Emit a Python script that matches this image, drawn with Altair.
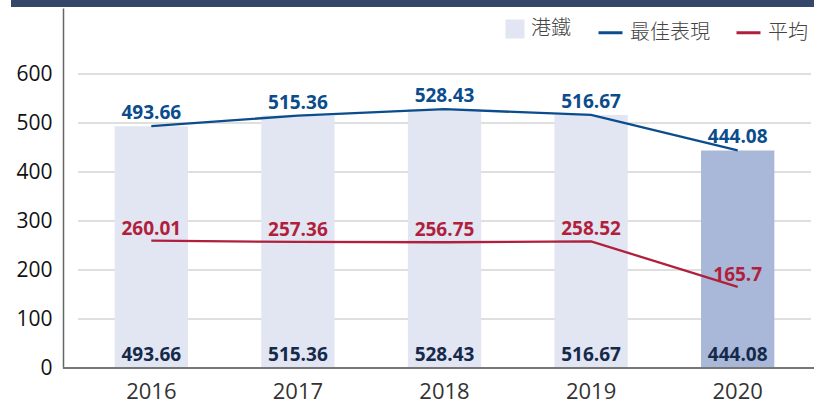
import altair as alt
import pandas as pd

years = ["2016", "2017", "2018", "2019", "2020"]
mtr = [493.66, 515.36, 528.43, 516.67, 444.08]
best = [493.66, 515.36, 528.43, 516.67, 444.08]
avg = [260.01, 257.36, 256.75, 258.52, 165.7]
y_ticks = [0, 100, 200, 300, 400, 500, 600]
grid_vals = [100, 200, 300, 400, 500, 600]

W, H = 733, 360
BLUE = "#0b4c8c"
RED = "#b01f3c"
NAVY = "#15294b"
FONT = "Open Sans"
CJK = "Noto Sans CJK TC"

def fmt(v):
    return f"{v:g}"

bars_df = pd.DataFrame({"year": years, "value": mtr, "series": ["港鐵"] * 5,
                        "label": [fmt(v) for v in mtr]})
best_df = pd.DataFrame({"year": years, "value": best, "series": ["最佳表現"] * 5,
                        "label": [fmt(v) for v in best]})
avg_df = pd.DataFrame({"year": years, "value": avg, "series": ["平均"] * 5,
                       "label": [fmt(v) for v in avg]})
lines_df = pd.concat([best_df, avg_df])
grid_df = pd.DataFrame({"g": grid_vals})

xscale = alt.Scale(paddingInner=0.5, paddingOuter=0.25)
yscale = alt.Scale(domain=[0, 735], nice=False)

x_enc = alt.X("year:N", scale=xscale, sort=years,
              axis=alt.Axis(title=None, labelAngle=0, labelFontSize=22, labelColor="#333333",
                            labelFont=FONT, labelPadding=13, ticks=False, domain=False, grid=False))
y_enc = alt.Y("value:Q", scale=yscale,
              axis=alt.Axis(title=None, values=y_ticks, labelFontSize=21, labelColor="#111111",
                            labelFont=FONT, labelPadding=11, ticks=False, grid=False,
                            domainColor="#666666", domainWidth=1.5, offset=15))

band = alt.Chart(pd.DataFrame({"a": [0]})).mark_rect(color="#34466a", clip=False).encode(
    x=alt.value(-67), x2=alt.value(W + 3), y=alt.value(-8), y2=alt.value(-1))

grid = alt.Chart(grid_df).mark_rule(color="#d4d4d4", strokeWidth=1.5).encode(
    y=alt.Y("g:Q", scale=yscale), x=alt.value(0), x2=alt.value(W))

xaxis_line = alt.Chart(pd.DataFrame({"a": [0]})).mark_rule(color="#777777", strokeWidth=2, clip=False).encode(
    x=alt.value(-15), x2=alt.value(W + 3), y=alt.value(H))

bars = alt.Chart(bars_df).mark_bar().encode(
    x=x_enc, y=y_enc,
    color=alt.condition(
        alt.datum.year == "2020",
        alt.value("#a9b8d8"),
        alt.Color("series:N", scale=alt.Scale(domain=["港鐵"], range=["#e2e5f2"]),
                  legend=alt.Legend(title=None, orient="none", legendX=427, legendY=11,
                                    symbolType="square", symbolSize=361, symbolStrokeWidth=0,
                                    labelFont=CJK, labelFontSize=20, labelFontWeight=300,
                                    labelColor="#444444", labelOffset=6)),
    ),
)

bar_labels = alt.Chart(bars_df).mark_text(font=FONT, fontSize=19, fontWeight="bold", color=NAVY,
                                          baseline="bottom", dy=-3).encode(
    x=alt.X("year:N", scale=xscale, sort=years), y=alt.value(H), text="label:N")

lines = alt.Chart(lines_df).mark_line(strokeWidth=2.3).encode(
    x=alt.X("year:N", scale=xscale, sort=years),
    y=alt.Y("value:Q", scale=yscale),
    stroke=alt.Stroke("series:N", scale=alt.Scale(domain=["最佳表現", "平均"], range=[BLUE, RED]),
                      legend=alt.Legend(title=None, orient="none", legendX=519, legendY=11,
                                        direction="horizontal", symbolType="stroke",
                                        symbolSize=576, symbolStrokeWidth=3,
                                        labelFont=CJK, labelFontSize=20, labelFontWeight=300,
                                        labelColor="#444444", labelOffset=6, columnPadding=20)),
    detail="series:N",
)

best_labels = alt.Chart(best_df).mark_text(font=FONT, fontSize=19, fontWeight="bold", color=BLUE,
                                           baseline="middle", dy=-13).encode(
    x=alt.X("year:N", scale=xscale, sort=years), y=alt.Y("value:Q", scale=yscale), text="label:N")

avg_labels = alt.Chart(avg_df).mark_text(font=FONT, fontSize=19, fontWeight="bold", color=RED,
                                         baseline="middle", dy=-12).encode(
    x=alt.X("year:N", scale=xscale, sort=years), y=alt.Y("value:Q", scale=yscale), text="label:N")

chart = alt.layer(band, grid, bars, xaxis_line, lines, best_labels, avg_labels, bar_labels).properties(
    width=W, height=H,
    autosize=alt.AutoSizeParams(type="none"),
    padding={"left": 78, "top": 8, "right": 3, "bottom": 36},
).resolve_scale(color="independent").configure_view(stroke=None)

chart.save("out.html", embed_options={"renderer": "svg", "actions": False})
